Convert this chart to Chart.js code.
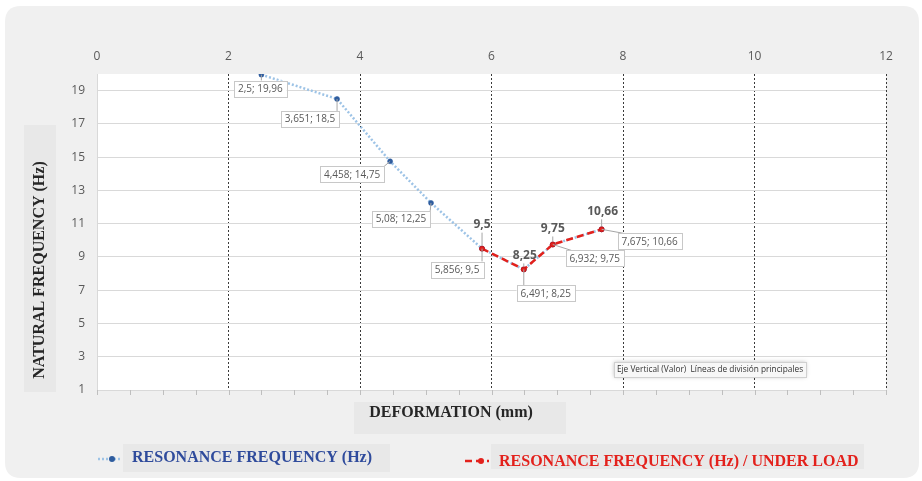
<!DOCTYPE html>
<html>
<head>
<meta charset="utf-8">
<script src="https://cdn.jsdelivr.net/npm/chart.js@4.4.0/dist/chart.umd.min.js"></script>
<style>
  html, body { margin: 0; padding: 0; background: #fff; }
  #wrap { width: 922px; height: 481px; }
</style>
</head>
<body>
<div id="wrap"><canvas id="chart" width="922" height="481"></canvas></div>
<script>
// data (decimal comma in labels)
const deformation = [2.5, 3.651, 4.458, 5.08, 5.856, 6.491, 6.932, 7.675];
const resonance   = [19.96, 18.5, 14.75, 12.25, 9.5, 8.25, 9.75, 10.66];
const loadDeformation = [5.856, 6.491, 6.932, 7.675];
const loadResonance   = [9.5, 8.25, 9.75, 10.66];
const xTicks = [0, 2, 4, 6, 8, 10, 12];
const yTicks = [1, 3, 5, 7, 9, 11, 13, 15, 17, 19];

const BLUE_LINE = '#9dc3e6';
const BLUE_DOT = '#2e5c9e';
const RED = '#e3211c';
const SERIF = '"Liberation Serif", "Times New Roman", serif';
const SANS = '"Open Sans", "Liberation Sans", sans-serif';

const fmt = v => String(v).replace('.', ',');

// callout offsets (box centre relative to point), in px
const calloutOffsets = [[-1, 14], [-27, 20], [-38, 13], [-30, 16], [-25, 21], [22, 24], [42, 14], [48, 12]];
const boldOffsets = [[0, -24], [1, -14], [0, -16], [1, -18]];

function roundRect(ctx, x, y, w, h, r) {
  ctx.beginPath();
  ctx.moveTo(x + r, y);
  ctx.lineTo(x + w - r, y);
  ctx.quadraticCurveTo(x + w, y, x + w, y + r);
  ctx.lineTo(x + w, y + h - r);
  ctx.quadraticCurveTo(x + w, y + h, x + w - r, y + h);
  ctx.lineTo(x + r, y + h);
  ctx.quadraticCurveTo(x, y + h, x, y + h - r);
  ctx.lineTo(x, y + r);
  ctx.quadraticCurveTo(x, y, x + r, y);
  ctx.closePath();
}

const decor = {
  id: 'decor',
  beforeDraw(chart) {
    const ctx = chart.ctx;
    const a = chart.chartArea;
    ctx.save();
    // card
    ctx.fillStyle = '#f0f0f0';
    roundRect(ctx, 5, 6, 914, 472, 16);
    ctx.fill();
    // plot area
    ctx.fillStyle = '#ffffff';
    ctx.fillRect(a.left, a.top, a.right - a.left, a.bottom - a.top);
    // title boxes
    ctx.fillStyle = '#e8e8e8';
    ctx.fillRect(24, 125, 32, 267);
    ctx.fillRect(354, 402, 212, 32);
    ctx.fillRect(123, 444, 267, 28);
    ctx.fillRect(491, 444, 373, 25);
    ctx.restore();
  },
  afterDraw(chart) {
    const ctx = chart.ctx;
    const a = chart.chartArea;
    const xs = chart.scales.x;
    ctx.save();
    // minor tick marks along the bottom
    ctx.strokeStyle = '#bfbfbf';
    ctx.lineWidth = 1;
    for (let i = 0; i <= 24; i++) {
      const px = Math.round(xs.getPixelForValue(i * 0.5)) + 0.5;
      ctx.beginPath();
      ctx.moveTo(px, a.bottom);
      ctx.lineTo(px, a.bottom + 5);
      ctx.stroke();
    }

    // callouts for the first series
    const meta = chart.getDatasetMeta(1);
    ctx.font = '10px ' + SANS;
    ctx.textAlign = 'center';
    ctx.textBaseline = 'middle';
    meta.data.forEach((pt, i) => {
      const txt = fmt(deformation[i]) + '; ' + fmt(resonance[i]);
      const w = ctx.measureText(txt).width + 8;
      const h = 16;
      const cx = pt.x + calloutOffsets[i][0];
      const cy = pt.y + calloutOffsets[i][1];
      const bx = cx - w / 2, by = cy - h / 2;
      // leader to nearest edge point
      const nx = Math.max(bx, Math.min(pt.x, bx + w));
      const ny = Math.max(by, Math.min(pt.y, by + h));
      ctx.strokeStyle = '#a6a6a6';
      ctx.beginPath();
      ctx.moveTo(pt.x, pt.y);
      ctx.lineTo(nx + (nx === bx ? 6 : 0), ny);
      ctx.stroke();
      ctx.fillStyle = '#ffffff';
      ctx.fillRect(bx, by, w, h);
      ctx.strokeStyle = '#c8c8c8';
      ctx.strokeRect(Math.round(bx) + 0.5, Math.round(by) + 0.5, Math.round(w), h);
      ctx.fillStyle = '#595959';
      ctx.fillText(txt, cx, cy + 0.5);
    });

    // bold value labels for the loaded series
    const meta2 = chart.getDatasetMeta(0);
    ctx.font = 'bold 12px ' + SANS;
    meta2.data.forEach((pt, i) => {
      const lx = pt.x + boldOffsets[i][0];
      const ly = pt.y + boldOffsets[i][1];
      ctx.strokeStyle = '#a6a6a6';
      ctx.beginPath();
      ctx.moveTo(pt.x, ly + 8);
      ctx.lineTo(pt.x, pt.y - 3);
      ctx.stroke();
      ctx.fillStyle = '#595959';
      ctx.fillText(fmt(loadResonance[i]), lx, ly);
    });

    // axis titles
    ctx.fillStyle = '#262626';
    ctx.font = 'bold 16px ' + SERIF;
    ctx.fillText('DEFORMATION (mm)', 451, 413);
    ctx.save();
    ctx.translate(40, 270);
    ctx.rotate(-Math.PI / 2);
    ctx.fillText('NATURAL FREQUENCY (Hz)', 0, 0);
    ctx.restore();

    // legend
    ctx.lineWidth = 2.5;
    ctx.strokeStyle = BLUE_LINE;
    ctx.setLineDash([2, 2]);
    ctx.beginPath(); ctx.moveTo(98, 459); ctx.lineTo(122, 459); ctx.stroke();
    ctx.setLineDash([7, 4]);
    ctx.strokeStyle = RED;
    ctx.beginPath(); ctx.moveTo(465, 461); ctx.lineTo(489, 461); ctx.stroke();
    ctx.setLineDash([]);
    ctx.fillStyle = BLUE_DOT;
    ctx.beginPath(); ctx.arc(112, 459, 3, 0, Math.PI * 2); ctx.fill();
    ctx.fillStyle = RED;
    ctx.beginPath(); ctx.arc(481, 461, 3, 0, Math.PI * 2); ctx.fill();
    ctx.textAlign = 'left';
    ctx.font = 'bold 16px ' + SERIF;
    ctx.fillStyle = '#2f4b9c';
    ctx.fillText('RESONANCE FREQUENCY (Hz)', 132, 458);
    ctx.fillStyle = RED;
    ctx.fillText('RESONANCE FREQUENCY (Hz) / UNDER LOAD', 499, 462);

    // hover box
    ctx.shadowColor = 'rgba(0,0,0,0.25)';
    ctx.shadowBlur = 4;
    ctx.fillStyle = '#f7f7f7';
    ctx.fillRect(614, 362, 192, 15);
    ctx.shadowBlur = 0;
    ctx.strokeStyle = '#d0d0d0';
    ctx.lineWidth = 1;
    ctx.strokeRect(614.5, 362.5, 192, 15);
    ctx.fillStyle = '#333333';
    ctx.font = '8.3px ' + SANS;
    ctx.textAlign = 'center';
    ctx.fillText('Eje Vertical (Valor)  Líneas de división principales', 710, 370);
    ctx.restore();
  }
};

new Chart(document.getElementById('chart'), {
  type: 'scatter',
  data: {
    datasets: [
      {
        label: 'RESONANCE FREQUENCY (Hz) / UNDER LOAD',
        data: loadDeformation.map((x, i) => ({ x: x, y: loadResonance[i] })),
        showLine: true,
        borderColor: RED,
        borderWidth: 2.5,
        borderDash: [7, 4],
        pointRadius: 2.5,
        pointBorderWidth: 1,
        pointBackgroundColor: RED,
        pointBorderColor: '#c0141a',
        order: 0
      },
      {
        label: 'RESONANCE FREQUENCY (Hz)',
        data: deformation.map((x, i) => ({ x: x, y: resonance[i] })),
        showLine: true,
        borderColor: BLUE_LINE,
        borderWidth: 2.5,
        borderDash: [2, 2],
        pointRadius: 2.5,
        pointBorderWidth: 0.5,
        pointBackgroundColor: BLUE_DOT,
        pointBorderColor: BLUE_DOT,
        order: 1
      }
    ]
  },
  options: {
    responsive: false,
    animation: false,
    layout: { padding: { left: 57, right: 36, top: 30, bottom: 91 } },
    plugins: { legend: { display: false }, tooltip: { enabled: false } },
    scales: {
      x: {
        type: 'linear',
        position: 'top',
        min: 0,
        max: 12,
        afterBuildTicks: ax => { ax.ticks = xTicks.map(v => ({ value: v })); },
        afterFit: ax => { ax.height = 44; },
        ticks: { color: '#595959', font: { family: SANS, size: 12 }, padding: 10 },
        grid: {
          drawTicks: false,
          color: c => (c.tick && c.tick.value === 0) ? 'rgba(0,0,0,0)' : '#3a3a3a',
          lineWidth: 1
        },
        border: { display: false, dash: [2, 2] }
      },
      y: {
        min: 1,
        max: 20,
        afterBuildTicks: ax => { ax.ticks = yTicks.map(v => ({ value: v })); },
        afterFit: ax => { ax.width = 40; },
        ticks: { color: '#595959', font: { family: SANS, size: 12 }, padding: 12 },
        grid: { drawTicks: false, color: '#d9d9d9', lineWidth: 1 },
        border: { display: true, color: '#d9d9d9' }
      }
    }
  },
  plugins: [decor]
});
</script>
</body>
</html>
